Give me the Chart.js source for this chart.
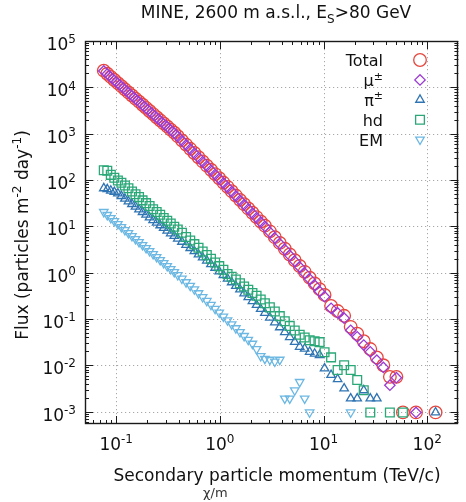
<!DOCTYPE html>
<html>
<head>
<meta charset="utf-8">
<script src="https://cdn.jsdelivr.net/npm/chart.js@4.4.1/dist/chart.umd.min.js"></script>
<style>
  html, body { margin: 0; padding: 0; background: #ffffff; }
  #wrap { width: 466px; height: 502px; position: relative; }
</style>
</head>
<body>
<div id="wrap"><canvas id="chart" width="466" height="502"></canvas></div>
<script>
// Bin centres of secondary particle momentum (TeV/c)
const momentum = [
  0.0759, 0.0820, 0.0887, 0.0959, 0.1038, 0.1122, 0.1213, 0.1312, 0.1419, 0.1535, 0.1660,
  0.1795, 0.1941, 0.2099, 0.2270, 0.2455, 0.2655, 0.2871, 0.3105, 0.3357, 0.3631, 0.3926,
  0.4305, 0.4721, 0.5176, 0.5675, 0.6223, 0.6823, 0.7482, 0.8204, 0.8995, 0.9863, 1.081,
  1.186, 1.300, 1.426, 1.563, 1.714, 1.879, 2.061, 2.259, 2.477, 2.716,
  3.034, 3.388, 3.784, 4.227, 4.721, 5.272, 5.888, 6.577, 7.345, 8.204, 9.162, 10.23,
  11.83, 13.68, 15.81, 18.28, 21.13, 24.43, 28.25, 32.66, 37.76, 43.65, 50.47, 58.34,
  67.45, 77.98, 90.16, 104.2, 120.5
];

// Flux per bin (particles m^-2 day^-1); null = empty bin
const total = [
  22900, 19600, 16800, 14400, 12300, 10600, 9060, 7770, 6660, 5700, 4900,
  4200, 3600, 3080, 2640, 2260, 1940, 1660, 1430, 1220, 1050, 883,
  716, 581, 471, 382, 310, 252, 204, 166, 134, 109, 88.0,
  71.0, 57.3, 46.1, 37.2, 30.1, 24.3, 19.6, 15.8, 12.7, 10.3,
  7.78, 5.83, 4.38, 3.28, 2.46, 1.85, 1.39, 1.04, 0.780, 0.586, 0.440, 0.330,
  0.191, 0.148, 0.117, 0.0676, 0.0479, 0.0331, 0.0224, 0.0148, 0.0100, 0.00562, 0.00562, 0.00096,
  null, 0.00096, null, null, 0.00096
];
const muon = [
  22600, 19400, 16600, 14200, 12200, 10430, 8940, 7660, 6570, 5620, 4830,
  4140, 3550, 3030, 2600, 2230, 1910, 1630, 1410, 1200, 1030, 868,
  703, 570, 462, 374, 304, 247, 200, 162, 131, 106, 85.9,
  69.2, 55.8, 44.8, 36.1, 29.2, 23.5, 19.0, 15.3, 12.3, 9.93,
  7.48, 5.59, 4.19, 3.14, 2.35, 1.76, 1.32, 0.975, 0.725, 0.535, 0.392, 0.302,
  0.170, 0.135, 0.104, 0.0568, 0.0412, 0.0273, 0.0195, 0.0129, 0.00900, 0.00372, 0.00540, null,
  null, 0.00096, null, null, null
];
const pion = [
  66.1, 63.1, 58.9, 55.0, 51.3, 45.0, 39.4, 34.5, 30.2, 26.5, 23.2,
  20.3, 17.8, 15.6, 13.6, 12.0, 10.5, 9.18, 8.05, 7.05, 6.18, 5.41,
  4.63, 3.96, 3.39, 2.90, 2.48, 2.13, 1.82, 1.52, 1.27, 1.06, 0.887,
  0.741, 0.619, 0.518, 0.433, 0.356, 0.294, 0.242, 0.200, 0.164, 0.135,
  0.107, 0.0843, 0.0661, 0.0519, 0.0406, 0.0318, 0.0250, 0.0229, 0.0195, 0.0178, 0.0166, 0.00851,
  0.00617, 0.00501, 0.00316, 0.00192, 0.00192, 0.00288, 0.00192, 0.00192, null, null, null, null,
  null, null, null, null, 0.00096
];
const hadron = [
  162, 158, 129, 112, 97.7, 87.1, 75.9, 66.1, 56.2, 49.0, 42.7,
  36.3, 31.6, 27.5, 23.4, 20.4, 17.8, 15.1, 13.2, 11.5, 9.77, 8.51,
  7.24, 5.89, 4.94, 4.12, 3.44, 2.86, 2.39, 1.99, 1.66, 1.38, 1.15,
  0.933, 0.813, 0.708, 0.589, 0.501, 0.427, 0.363, 0.316, 0.263, 0.219,
  0.178, 0.145, 0.115, 0.0891, 0.0708, 0.0562, 0.0457, 0.0398, 0.0347, 0.0331, 0.0316, 0.0191,
  0.0148, 0.00794, 0.0100, 0.00794, 0.00479, 0.00288, 0.00096, null, null, 0.00096, null, 0.00096,
  null, null, null, null, null
];
const em = [
  20.4, 17.6, 15.1, 13.0, 11.2, 9.66, 8.32, 7.16, 6.17, 5.32, 4.58,
  3.94, 3.40, 2.92, 2.52, 2.17, 1.87, 1.61, 1.38, 1.19, 1.03, 0.883,
  0.741, 0.621, 0.521, 0.436, 0.360, 0.297, 0.245, 0.202, 0.166, 0.137, 0.113,
  0.0931, 0.0767, 0.0632, 0.0521, 0.0430, 0.0354, 0.0292, 0.0224, 0.0158, 0.0138,
  0.0132, 0.0120, 0.0132, 0.00192, 0.00192, 0.00288, 0.00437, 0.00192, 0.00096, null, null, null,
  null, null, null, 0.00096, null, null, null, null, null, null, null, null,
  null, null, null, null, null
];

// Axis decades and their exponent labels
const xTickValues = [0.1, 1, 10, 100];
const xTickExponents = ['-1', '0', '1', '2'];
const yTickValues = [1e-3, 1e-2, 1e-1, 1, 10, 100, 1e3, 1e4, 1e5];
const yTickExponents = ['-3', '-2', '-1', '0', '1', '2', '3', '4', '5'];

const FONT = '"DejaVu Sans", "Liberation Sans", sans-serif';
const INK = '#111111';

// Marker styles, listed in legend order
const series = [
  { key: 'total', label: [{ t: 'Total' }], values: total, style: 'circle', radius: 6.3, rotation: 0, color: '#e8463d' },
  { key: 'muon', label: [{ t: 'μ' }, { t: '±', s: 1 }], values: muon, style: 'rectRot', radius: 5.2, rotation: 0, color: '#9b3bd4' },
  { key: 'pion', label: [{ t: 'π' }, { t: '±', s: 1 }], values: pion, style: 'triangle', radius: 4.9, rotation: 0, color: '#2f74b3' },
  { key: 'hadron', label: [{ t: 'hd' }], values: hadron, style: 'rect', radius: 6.2, rotation: 0, color: '#2aa878' },
  { key: 'em', label: [{ t: 'EM' }], values: em, style: 'triangle', radius: 4.9, rotation: 180, color: '#6cb8e3' }
];

function points(values) {
  const out = [];
  values.forEach((v, i) => { if (v !== null) out.push({ x: momentum[i], y: v }); });
  return out;
}

// Text made of normal, superscript (s: 1) and subscript (s: -1) runs
function partFont(p, size) { return (p.s ? Math.round(size * 0.7) : size) + 'px ' + FONT; }
function partsWidth(ctx, parts, size) {
  let w = 0;
  for (const p of parts) { ctx.font = partFont(p, size); w += ctx.measureText(p.t).width; }
  return w;
}
function drawParts(ctx, parts, x, y, size, align) {
  const w = partsWidth(ctx, parts, size);
  let cx = align === 'right' ? x - w : (align === 'center' ? x - w / 2 : x);
  ctx.textAlign = 'left';
  ctx.textBaseline = 'alphabetic';
  for (const p of parts) {
    ctx.font = partFont(p, size);
    const dy = p.s === 1 ? -size * 0.4 : (p.s === -1 ? size * 0.3 : 0);
    ctx.fillText(p.t, cx, y + dy);
    cx += ctx.measureText(p.t).width;
  }
}

function minorValues(min, max) {
  const out = [];
  for (let e = Math.floor(Math.log10(min)); e <= Math.ceil(Math.log10(max)); e++) {
    for (let k = 2; k <= 9; k++) {
      const v = k * Math.pow(10, e);
      if (v > min && v < max) out.push(v);
    }
  }
  return out;
}

function seg(ctx, x1, y1, x2, y2) { ctx.beginPath(); ctx.moveTo(x1, y1); ctx.lineTo(x2, y2); ctx.stroke(); }

const gnuFrame = {
  id: 'gnuFrame',
  beforeDatasetsDraw(chart) {
    const { ctx, chartArea: a, scales: { x, y } } = chart;
    ctx.save();
    ctx.strokeStyle = '#a8a8a8';
    ctx.lineWidth = 1;
    ctx.setLineDash([1.2, 2.8]);
    xTickValues.forEach(v => {
      const px = Math.round(x.getPixelForValue(v)) + 0.5;
      if (px > a.left + 1 && px < a.right - 1) seg(ctx, px, a.top, px, a.bottom);
    });
    yTickValues.forEach(v => {
      const py = Math.round(y.getPixelForValue(v)) + 0.5;
      if (py > a.top + 1 && py < a.bottom - 1) seg(ctx, a.left, py, a.right, py);
    });
    ctx.restore();
  },
  afterDatasetsDraw(chart) {
    const { ctx, chartArea: a, scales: { x, y } } = chart;
    ctx.save();
    ctx.setLineDash([]);
    ctx.strokeStyle = '#1a1a1a';
    ctx.lineWidth = 1;

    // inward ticks on all four sides
    xTickValues.forEach(v => {
      const px = Math.round(x.getPixelForValue(v)) + 0.5;
      seg(ctx, px, a.bottom, px, a.bottom - 8);
      seg(ctx, px, a.top, px, a.top + 8);
    });
    minorValues(x.min, x.max).forEach(v => {
      const px = Math.round(x.getPixelForValue(v)) + 0.5;
      seg(ctx, px, a.bottom, px, a.bottom - 4);
      seg(ctx, px, a.top, px, a.top + 4);
    });
    yTickValues.forEach(v => {
      const py = Math.round(y.getPixelForValue(v)) + 0.5;
      seg(ctx, a.left, py, a.left + 8, py);
      seg(ctx, a.right, py, a.right - 8, py);
    });
    minorValues(y.min, y.max).forEach(v => {
      const py = Math.round(y.getPixelForValue(v)) + 0.5;
      seg(ctx, a.left, py, a.left + 4, py);
      seg(ctx, a.right, py, a.right - 4, py);
    });

    // frame
    ctx.lineWidth = 1.4;
    ctx.strokeRect(Math.round(a.left) + 0.5, Math.round(a.top) + 0.5,
                   Math.round(a.right - a.left) - 1, Math.round(a.bottom - a.top) - 1);

    ctx.fillStyle = INK;
    // tick labels
    xTickValues.forEach((v, i) => {
      drawParts(ctx, [{ t: '10' }, { t: xTickExponents[i], s: 1 }], x.getPixelForValue(v), a.bottom + 26, 17, 'center');
    });
    yTickValues.forEach((v, i) => {
      drawParts(ctx, [{ t: '10' }, { t: yTickExponents[i], s: 1 }], 76, y.getPixelForValue(v) + 9, 17, 'right');
    });

    // titles
    drawParts(ctx, [{ t: 'MINE, 2600 m a.s.l., E' }, { t: 'S', s: -1 }, { t: '>80 GeV' }], 276, 18, 17, 'center');
    drawParts(ctx, [{ t: 'Secondary particle momentum (TeV/c)' }], 277, 481, 17, 'center');
    ctx.fillStyle = '#333333';
    ctx.font = '13px ' + FONT;
    ctx.textAlign = 'left';
    ctx.fillText('χ/m', 203, 497);
    ctx.fillStyle = INK;
    ctx.save();
    ctx.translate(28, 235);
    ctx.rotate(-Math.PI / 2);
    drawParts(ctx, [{ t: 'Flux (particles m' }, { t: '-2', s: 1 }, { t: ' day' }, { t: '-1', s: 1 }, { t: ')' }], 0, 0, 17, 'center');
    ctx.restore();

    // key
    series.forEach((s, i) => {
      const cy = 60 + i * 19.9;
      ctx.fillStyle = INK;
      drawParts(ctx, s.label, 383, cy + 6, 16, 'right');
      ctx.strokeStyle = s.color;
      ctx.fillStyle = 'rgba(0,0,0,0)';
      ctx.lineWidth = 1.3;
      Chart.helpers.drawPoint(ctx, { pointStyle: s.style, radius: s.radius, rotation: s.rotation, borderWidth: 1.3 }, 420, cy);
    });
    ctx.restore();
  }
};

// later entries in the key are painted above earlier ones
const datasets = series.map((s, i) => ({
  label: s.key,
  data: points(s.values),
  showLine: false,
  order: series.length - i,
  pointStyle: s.style,
  pointRadius: s.radius,
  pointRotation: s.rotation,
  pointBorderWidth: 1.3,
  pointBorderColor: s.color,
  pointBackgroundColor: 'rgba(0,0,0,0)',
  borderColor: s.color,
  backgroundColor: 'rgba(0,0,0,0)'
}));

new Chart(document.getElementById('chart'), {
  type: 'scatter',
  data: { datasets },
  options: {
    responsive: false,
    animation: false,
    devicePixelRatio: 1,
    layout: { padding: { top: 41, right: 2, left: 0, bottom: 0 } },
    plugins: { legend: { display: false }, tooltip: { enabled: false }, title: { display: false } },
    scales: {
      x: {
        type: 'logarithmic', min: 0.05, max: 200,
        grid: { display: false }, border: { display: false }, ticks: { display: false },
        afterFit(scale) { scale.height = 78; }
      },
      y: {
        type: 'logarithmic', min: 5.4e-4, max: 1e5,
        grid: { display: false }, border: { display: false }, ticks: { display: false },
        afterFit(scale) { scale.width = 85; }
      }
    }
  },
  plugins: [gnuFrame]
});
</script>
</body>
</html>
